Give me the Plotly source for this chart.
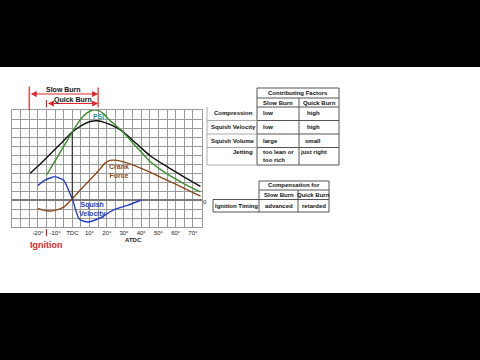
import plotly.graph_objects as go

W, H = 480, 360

# ---------------- data ----------------
black_x = [-24.5, -18, -12, -6, 0, 6, 11, 14.5, 19, 24, 29, 37, 45, 55, 65, 74.4]
black_y = [2.95, 4.1, 5.25, 6.4, 7.55, 8.35, 8.75, 8.8, 8.6, 8.2, 7.65, 6.3, 4.95, 3.7, 2.55, 1.52]

green_x = [-15, -10, -5, 0, 4, 8, 12, 15, 18, 22, 29, 37, 45, 55, 65, 74.4]
green_y = [2.75, 4.35, 5.95, 7.55, 8.75, 9.6, 10.0, 9.95, 9.6, 8.8, 7.65, 5.95, 4.3, 2.9, 1.8, 0.89]

brown_x = [-20, -15, -10, -5, 0, 5, 10, 15, 19, 22, 26, 35, 45, 55, 65, 74.4]
brown_y = [-0.96, -1.2, -1.15, -0.8, 0.15, 1.2, 2.2, 3.2, 4.1, 4.4, 4.4, 3.9, 3.1, 2.2, 1.3, 0.44]

blue_x = [-20, -16, -12, -10, -7, -5, 0, 4, 9, 16, 24, 32, 40]
blue_y = [1.6, 2.2, 2.5, 2.6, 2.4, 2.2, 0.1, -2.1, -2.45, -2.0, -1.1, -0.6, 0.0]

tick_vals = list(range(-35, 80, 5))
tick_text = {-20: "-20°", -10: "-10°", 0: "TDC", 10: "10°", 20: "20°", 30: "30°",
             40: "40°", 50: "50°", 60: "60°", 70: "70°"}
tick_labels = [tick_text.get(v, "") for v in tick_vals]

slow_burn = (-25, 15)
quick_burn = (-15, 15)
ignition = -15

factor_rows = ["Compression", "Squish Velocity", "Squish Volume", "Jetting"]
slow_vals = ["low", "low", "large", "too lean or<br>too rich"]
quick_vals = ["high", "high", "small", "just right"]

# ---------------- helpers ----------------
def px(x):
    return x / W

def py(y):
    return 1 - y / H

FONT = "Liberation Sans, Arial, sans-serif"
RED = "#e0262a"

fig = go.Figure()

def curve(xs, ys, color):
    fig.add_trace(go.Scatter(x=xs, y=ys, mode="lines",
                             line=dict(color=color, width=1.4, shape="spline", smoothing=0.6),
                             hoverinfo="skip", showlegend=False, cliponaxis=False))

curve(black_x, black_y, "#111111")
curve(green_x, green_y, "#3a8f2a")
curve(brown_x, brown_y, "#8b4a1c")
curve(blue_x, blue_y, "#2440c8")

shapes = []
annotations = []

# letterbox bars
shapes.append(dict(type="rect", xref="paper", yref="paper", x0=0, x1=1, y0=py(67), y1=1,
                   fillcolor="black", line=dict(width=0), layer="above"))
shapes.append(dict(type="rect", xref="paper", yref="paper", x0=0, x1=1, y0=0, y1=py(293),
                   fillcolor="black", line=dict(width=0), layer="above"))

# TDC dark line
shapes.append(dict(type="line", xref="x", yref="y", x0=0, x1=0, y0=0, y1=7.55,
                   line=dict(color="#333333", width=1.2)))

# burn markers (vertical red bars above the grid)
for xv, y_top, y_bot in [(slow_burn[0], 86.5, 110), (quick_burn[0], 100, 107.5), (slow_burn[1], 87.5, 107.5)]:
    shapes.append(dict(type="line", xref="x", yref="paper", x0=xv, x1=xv, y0=py(y_bot), y1=py(y_top),
                       line=dict(color=RED, width=1.2)))

def dbl_arrow(x0, x1, ypix):
    annotations.append(dict(x=x1, y=py(ypix), ax=x0, ay=0, xref="x", yref="paper", axref="x", ayref="pixel",
                            text="", showarrow=True, arrowhead=2, startarrowhead=2, arrowside="end+start",
                            arrowcolor=RED, arrowwidth=1.2, arrowsize=1, startarrowsize=1,
                            standoff=0, startstandoff=0))

dbl_arrow(slow_burn[0], slow_burn[1], 94)
dbl_arrow(quick_burn[0], quick_burn[1], 103.5)

def text(x, y, s, size=7, color="#111", bold=False, xanchor="center", xref="paper", yref="paper", align="center"):
    if bold:
        s = "<b>" + s + "</b>"
    annotations.append(dict(x=x, y=y, xref=xref, yref=yref, text=s, showarrow=False,
                            font=dict(family=FONT, size=size, color=color),
                            xanchor=xanchor, yanchor="middle", align=align))

text(px(63), py(89.5), "Slow Burn", size=7, bold=True)
text(px(73), py(99.5), "Quick Burn", size=7, bold=True)

# curve labels
text(px(98), py(117), "PSI", size=7, color="#2f9a9a", bold=True)
text(px(119), py(171), "Crank<br>Force", size=7, color="#8b4a1c", bold=True)
text(px(92), py(209.5), "Squish<br>Velocity", size=7, color="#2440c8", bold=True)

# ignition
shapes.append(dict(type="line", xref="x", yref="paper", x0=ignition, x1=ignition, y0=py(236), y1=py(229),
                   line=dict(color=RED, width=1.2)))
text(ignition, py(244.5), "Ignition", size=9, color=RED, bold=True, xref="x")
text(px(133), py(240.5), "ATDC", size=6, color="#222", bold=True)
text(px(204.5), py(201.5), "0", size=6, color="#222")

# ---------------- tables ----------------
BORDER = "#555555"
LIGHT = "#aaaaaa"
TS = 6

def hline(x0, x1, y, color=BORDER):
    shapes.append(dict(type="line", xref="paper", yref="paper", x0=px(x0), x1=px(x1), y0=py(y), y1=py(y),
                       line=dict(color=color, width=1)))

def vline(x, y0, y1, color=BORDER):
    shapes.append(dict(type="line", xref="paper", yref="paper", x0=px(x), x1=px(x), y0=py(y0), y1=py(y1),
                       line=dict(color=color, width=1)))

# table 1
a, b, c, d = 207, 257, 299, 339
h0, h1, h2 = 88, 98, 107
rows = [107, 120.5, 134, 147.5, 165]
hline(b, d, h0); hline(b, d, h1); hline(b, d, h2)
vline(b, h0, rows[-1]); vline(d, h0, rows[-1]); vline(c, h1, rows[-1])
for r in rows[1:]:
    hline(b, d, r)
    hline(a, b, r, LIGHT)
vline(a, rows[0], rows[-1], LIGHT)

text(px((b + d) / 2), py(93), "Contributing Factors", size=TS, bold=True)
text(px((b + c) / 2), py(102.5), "Slow Burn", size=TS, bold=True)
text(px((c + d) / 2), py(102.5), "Quick Burn", size=TS, bold=True)
label_y = [112.5, 127, 141, 152]
val_y = [112.5, 127, 141, 155.5]
for i, lab in enumerate(factor_rows):
    if lab in ("Compression", "Jetting"):
        text(px(255), py(label_y[i]), lab, size=TS, bold=True, xanchor="right")
    else:
        text(px(209), py(label_y[i]), lab, size=TS, bold=True, xanchor="left")
    text(px(261), py(val_y[i]), slow_vals[i], size=TS, bold=True, xanchor="left", align="left")
    text(px(313), py(label_y[i]), quick_vals[i], size=TS, bold=True)

# table 2
e, f, g, hh = 213, 259, 298, 329
t0, t1, t2, t3 = 181, 190, 199.5, 212
hline(f, hh, t0); hline(f, hh, t1); hline(e, hh, t2); hline(e, hh, t3)
vline(f, t0, t3); vline(hh, t0, t3); vline(g, t1, t3); vline(e, t2, t3)
text(px((f + hh) / 2), py(185.5), "Compensation for", size=TS, bold=True)
text(px((f + g) / 2), py(195), "Slow Burn", size=TS, bold=True)
text(px((g + hh) / 2), py(195), "Quick Burn", size=TS, bold=True)
text(px((e + f) / 2), py(205.8), "Ignition Timing", size=TS, bold=True)
text(px((f + g) / 2), py(205.8), "advanced", size=TS, bold=True)
text(px((g + hh) / 2), py(205.8), "retarded", size=TS, bold=True)

fig.update_layout(
    width=W, height=H,
    margin=dict(l=0, r=0, t=0, b=0),
    paper_bgcolor="white", plot_bgcolor="white",
    showlegend=False,
    shapes=shapes, annotations=annotations,
    xaxis=dict(domain=[px(12), px(201.5)], range=[-35, 75], tickmode="array", tickvals=tick_vals,
               ticktext=tick_labels, showgrid=True, gridcolor="#9a9a9a", gridwidth=1,
               zeroline=False, showline=True, linecolor="#9a9a9a", mirror=True, ticks="",
               tickfont=dict(family=FONT, size=6, color="#222"), fixedrange=True),
    yaxis=dict(domain=[py(227), py(110)], range=[-3, 10], dtick=1, tick0=0, showgrid=True,
               gridcolor="#9a9a9a", gridwidth=1, showticklabels=False, ticks="",
               zeroline=True, zerolinecolor="#7a7a7a", zerolinewidth=2,
               showline=True, linecolor="#9a9a9a", mirror=True, fixedrange=True),
    font=dict(family=FONT),
)

fig.write_html("out.html", config={"displayModeBar": False},
               post_script="document.body.style.margin='0';document.body.style.overflow='hidden';")
